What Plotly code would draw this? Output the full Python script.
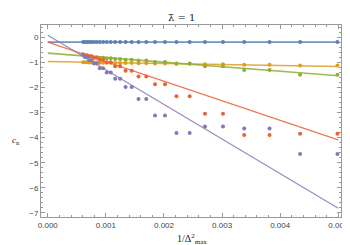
import plotly.graph_objects as go

# x values: 1/Delta_max^2 (Delta = 40 ... 14)
x_vals = [0.000625, 0.000657462, 0.000692521, 0.000730460, 0.000771605, 0.000816327,
          0.000865052, 0.000918274, 0.000976563, 0.00104058, 0.00111111, 0.00118906,
          0.00127551, 0.00137174, 0.00147929, 0.0016, 0.00173611, 0.00189036,
          0.00206612, 0.00226757, 0.0025, 0.00277008, 0.00308642, 0.00346021,
          0.00390625, 0.00444444, 0.00510204]

blue_y = [-0.2] * 27
orange_y = [-1.00, -1.00, -1.00, -1.01, -1.01, -1.01, -1.01, -1.02, -1.02, -1.02, -1.02,
            -1.03, -1.03, -1.03, -1.03, -1.04, -1.04, -1.05, -1.05, -1.06, -1.06,
            -1.08, -1.08, -1.10, -1.10, -1.13, -1.13]
green_y = [-0.72, -0.75, -0.75, -0.77, -0.77, -0.80, -0.80, -0.82, -0.82, -0.84, -0.84,
           -0.87, -0.87, -0.90, -0.90, -0.93, -0.93, -0.99, -0.99, -1.05, -1.05,
           -1.16, -1.16, -1.31, -1.31, -1.50, -1.50]
red_y = [-0.68, -0.72, -0.72, -0.76, -0.76, -0.82, -0.82, -0.90, -0.90, -1.00, -1.00,
         -1.16, -1.16, -1.34, -1.34, -1.57, -1.57, -1.88, -1.88, -2.36, -2.36,
         -3.05, -3.05, -3.90, -3.90, -3.85, -3.85]
purple_y = [-0.70, -0.80, -0.80, -0.92, -0.92, -1.05, -1.05, -1.24, -1.24, -1.41, -1.41,
            -1.66, -1.66, -1.99, -1.99, -2.46, -2.46, -3.12, -3.12, -3.82, -3.82,
            -3.56, -3.56, -3.64, -3.64, -4.65, -4.65]

# linear fits, evaluated at the ends of the x range
fit_x = [0.0, 0.005]
blue_fit = [-0.2, -0.2]
orange_fit = [-0.97, -1.17]
green_fit = [-0.64, -1.54]
red_fit = [-0.2, -4.09]
purple_fit = [0.07, -6.81]

x_range = [-0.000117, 0.00505]
y_range = [-7.16, 0.48]

colors = {"blue": "#5E81B5", "orange": "#E19C24", "green": "#8FB032",
          "red": "#EB6235", "purple": "#8778B3"}

series = [("blue", blue_y, blue_fit, 1.6), ("orange", orange_y, orange_fit, 1.6),
          ("green", green_y, green_fit, 1.6), ("red", red_y, red_fit, 1.2),
          ("purple", purple_y, purple_fit, 1.2)]

W, H = 350, 245
ML, MR, MT, MB = 33, 2, 17, 36
plot_w = W - ML - MR
frame_right = 341                      # px where the frame ends
dom_end = (frame_right - ML) / plot_w  # main axis domain end
# overlay axis spanning the full width with identical scale (lets points sit past the frame)
x2_end = x_range[0] + (x_range[1] - x_range[0]) / dom_end

fig = go.Figure()
for name, ys, fit, lw in series:
    fig.add_trace(go.Scatter(x=fit_x, y=fit, mode="lines",
                             line=dict(color=colors[name], width=lw),
                             opacity=0.85, showlegend=False, hoverinfo="skip"))
for name, ys, fit, lw in series:
    fig.add_trace(go.Scatter(x=x_vals, y=ys, mode="markers", xaxis="x2", yaxis="y",
                             marker=dict(color=colors[name], size=4),
                             showlegend=False))

axis_common = dict(showgrid=False, zeroline=False, showline=True, linecolor="#999999",
                   linewidth=1, mirror="ticks", ticks="inside", tickcolor="#999999",
                   ticklen=4, tickwidth=1,
                   tickfont=dict(family="Liberation Sans, Arial, sans-serif", size=8, color="#444444"))

fig.update_layout(
    xaxis=dict(range=x_range, domain=[0, dom_end],
               tickvals=[0, 0.001, 0.002, 0.003, 0.004, 0.005],
               ticktext=["0.000", "0.001", "0.002", "0.003", "0.004", "0.005"],
               minor=dict(ticks="inside", ticklen=2, tickcolor="#999999", dtick=0.0002,
                          tick0=0, showgrid=False),
               **axis_common),
    xaxis2=dict(range=[x_range[0], x2_end], domain=[0, 1], overlaying="x", anchor="y",
                visible=False, showgrid=False, zeroline=False),
    yaxis=dict(range=y_range, tickvals=[0, -1, -2, -3, -4, -5, -6, -7],
               minor=dict(ticks="inside", ticklen=2, tickcolor="#999999", dtick=0.2,
                          tick0=0, showgrid=False),
               **axis_common),
)

def px_to_paper(px):
    return (px - ML) / plot_w

fig.update_layout(
    width=W, height=H,
    margin=dict(l=ML, r=MR, t=MT, b=MB),
    plot_bgcolor="white", paper_bgcolor="white",
    annotations=[
        dict(text="λ̄ = 1", x=px_to_paper(177), y=1, xref="paper", yref="paper",
             xanchor="center", yanchor="bottom", yshift=0, showarrow=False,
             font=dict(family="DejaVu Serif, Liberation Serif, serif", size=10, color="#222222")),
        dict(text="1/Δ<sup>2</sup><sub>max</sub>", x=px_to_paper(188), y=0, xref="paper",
             yref="paper", xanchor="center", yanchor="top", yshift=-13, showarrow=False,
             font=dict(family="Liberation Serif, Times New Roman, serif", size=10, color="#222222")),
        dict(text="<i>c</i><sub>n</sub>", x=px_to_paper(7), y=0.40, xref="paper", yref="paper",
             xanchor="center", yanchor="middle", showarrow=False,
             font=dict(family="Liberation Serif, Times New Roman, serif", size=9, color="#222222")),
    ],
)

fig.write_html("out.html")
